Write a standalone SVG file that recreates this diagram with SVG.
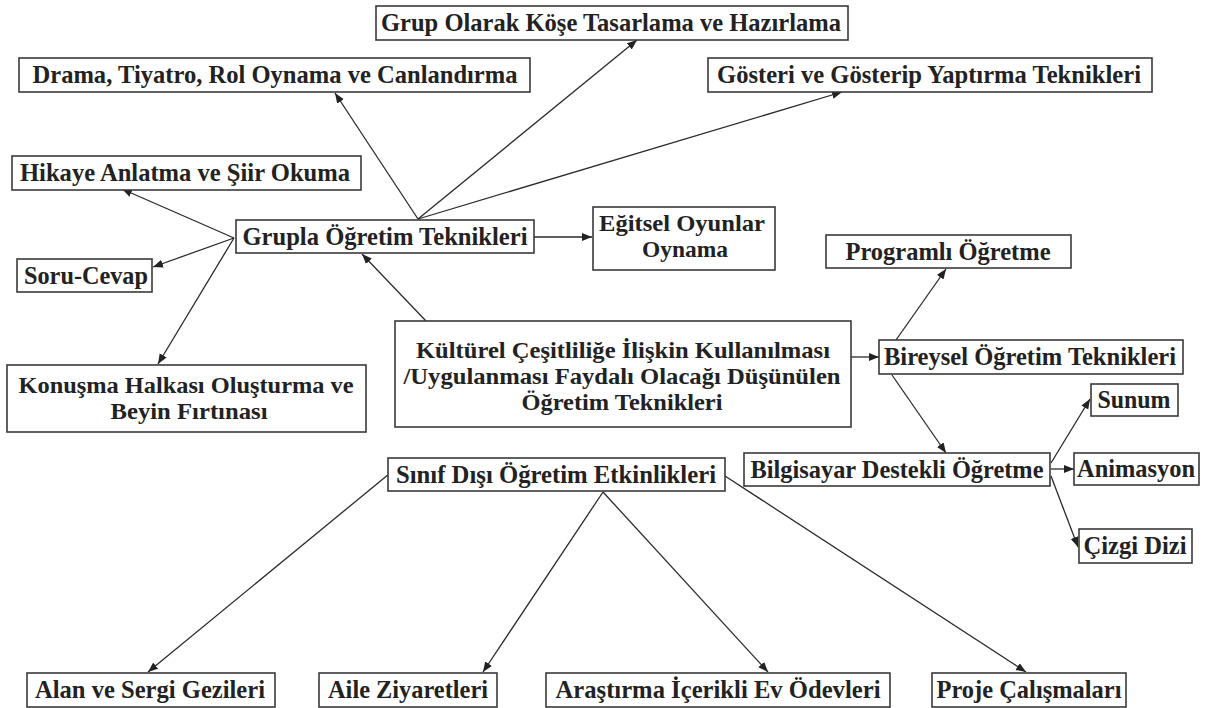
<svg xmlns="http://www.w3.org/2000/svg" width="1206" height="708" viewBox="0 0 1206 708">
<style>
.box{fill:#fff;stroke:#3a3a3a;stroke-width:1.6}
.t{font-family:"Liberation Serif","Times New Roman",serif;font-weight:bold;font-size:25.5px;fill:#222;text-anchor:middle}
.m{font-size:23px}
.c{stroke:#2a2a2a;stroke-width:1.3;fill:none;marker-end:url(#ah)}
</style>
<defs>
<marker id="ah" markerUnits="userSpaceOnUse" markerWidth="11" markerHeight="9" refX="10" refY="4.5" orient="auto">
<path d="M0,0.5 L10,4.5 L0,8.5 Z" fill="#222"/>
</marker>
</defs>
<rect width="1206" height="708" fill="#fff"/>
<g id="connectors">
<line class="c" x1="418" y1="219" x2="335" y2="93"/>
<line class="c" x1="418" y1="219" x2="637" y2="40"/>
<line class="c" x1="418" y1="219" x2="842" y2="92"/>
<line class="c" x1="234" y1="238" x2="122" y2="189"/>
<line class="c" x1="234" y1="238" x2="153" y2="267"/>
<line class="c" x1="234" y1="238" x2="158" y2="364"/>
<line class="c" x1="534" y1="237" x2="592" y2="237"/>
<line class="c" x1="426" y1="321" x2="362" y2="254"/>
<line class="c" x1="851" y1="357" x2="879" y2="357"/>
<line class="c" x1="896" y1="340" x2="946" y2="269"/>
<line class="c" x1="892" y1="375" x2="946" y2="453"/>
<line class="c" x1="1051" y1="463" x2="1090" y2="399"/>
<line class="c" x1="1051" y1="469" x2="1074" y2="469"/>
<line class="c" x1="1051" y1="476" x2="1078" y2="547"/>
<line class="c" x1="389" y1="474" x2="148" y2="672"/>
<line class="c" x1="603" y1="492" x2="483" y2="672"/>
<line class="c" x1="603" y1="492" x2="768" y2="672"/>
<line class="c" x1="725" y1="476" x2="1026" y2="672"/>
</g>
<g id="n-grup-olarak"><rect class="box" x="376" y="6" width="472" height="34"/><text class="t" x="611" y="31" textLength="460" lengthAdjust="spacingAndGlyphs">Grup Olarak Köşe Tasarlama ve Hazırlama</text></g>
<g id="n-drama"><rect class="box" x="19" y="58" width="511" height="34"/><text class="t" x="275" y="83" textLength="485" lengthAdjust="spacingAndGlyphs">Drama, Tiyatro, Rol Oynama ve Canlandırma</text></g>
<g id="n-gosteri"><rect class="box" x="708" y="58" width="444" height="34"/><text class="t" x="929" y="83" textLength="424" lengthAdjust="spacingAndGlyphs">Gösteri ve Gösterip Yaptırma Teknikleri</text></g>
<g id="n-hikaye"><rect class="box" x="12" y="156" width="349" height="34"/><text class="t" x="185" y="181" textLength="330" lengthAdjust="spacingAndGlyphs">Hikaye Anlatma ve Şiir Okuma</text></g>
<g id="n-grupla"><rect class="box" x="236" y="220" width="298" height="33"/><text class="t" x="385" y="245" textLength="285" lengthAdjust="spacingAndGlyphs">Grupla Öğretim Teknikleri</text></g>
<g id="n-egitsel"><rect class="box" x="593" y="207" width="182" height="63"/><text class="t m" x="682" y="231" textLength="166" lengthAdjust="spacingAndGlyphs">Eğitsel Oyunlar</text><text class="t m" x="685" y="257" textLength="86" lengthAdjust="spacingAndGlyphs">Oynama</text></g>
<g id="n-programli"><rect class="box" x="826" y="235" width="245" height="33"/><text class="t" x="948" y="260" textLength="205" lengthAdjust="spacingAndGlyphs">Programlı Öğretme</text></g>
<g id="n-soru"><rect class="box" x="17" y="259" width="135" height="33"/><text class="t" x="86" y="284" textLength="124" lengthAdjust="spacingAndGlyphs">Soru-Cevap</text></g>
<g id="n-konusma"><rect class="box" x="7" y="365" width="359" height="67"/><text class="t m" x="186" y="393" textLength="335" lengthAdjust="spacingAndGlyphs">Konuşma Halkası Oluşturma ve</text><text class="t m" x="189" y="419" textLength="157" lengthAdjust="spacingAndGlyphs">Beyin Fırtınası</text></g>
<g id="n-kulturel"><rect class="box" x="395" y="321" width="456" height="106"/><text class="t m" x="623" y="358" textLength="414" lengthAdjust="spacingAndGlyphs">Kültürel Çeşitliliğe İlişkin Kullanılması</text><text class="t m" x="622" y="384" textLength="437" lengthAdjust="spacingAndGlyphs">/Uygulanması Faydalı Olacağı Düşünülen</text><text class="t m" x="622" y="410" textLength="201" lengthAdjust="spacingAndGlyphs">Öğretim Teknikleri</text></g>
<g id="n-bireysel"><rect class="box" x="879" y="340" width="304" height="34"/><text class="t" x="1030" y="365" textLength="292" lengthAdjust="spacingAndGlyphs">Bireysel Öğretim Teknikleri</text></g>
<g id="n-sunum"><rect class="box" x="1091" y="384" width="87" height="32"/><text class="t" x="1134" y="408" textLength="73" lengthAdjust="spacingAndGlyphs">Sunum</text></g>
<g id="n-bilgisayar"><rect class="box" x="744" y="453" width="306" height="33"/><text class="t" x="897" y="478" textLength="293" lengthAdjust="spacingAndGlyphs">Bilgisayar Destekli Öğretme</text></g>
<g id="n-animasyon"><rect class="box" x="1074" y="453" width="125" height="32"/><text class="t" x="1136" y="477" textLength="118" lengthAdjust="spacingAndGlyphs">Animasyon</text></g>
<g id="n-sinif"><rect class="box" x="388" y="458" width="337" height="33"/><text class="t" x="556" y="483" textLength="320" lengthAdjust="spacingAndGlyphs">Sınıf Dışı Öğretim Etkinlikleri</text></g>
<g id="n-cizgi"><rect class="box" x="1079" y="529" width="113" height="34"/><text class="t" x="1135" y="554" textLength="103" lengthAdjust="spacingAndGlyphs">Çizgi Dizi</text></g>
<g id="n-alan"><rect class="box" x="27" y="673" width="248" height="34"/><text class="t" x="150" y="698" textLength="230" lengthAdjust="spacingAndGlyphs">Alan ve Sergi Gezileri</text></g>
<g id="n-aile"><rect class="box" x="319" y="673" width="178" height="34"/><text class="t" x="408" y="698" textLength="160" lengthAdjust="spacingAndGlyphs">Aile Ziyaretleri</text></g>
<g id="n-arastirma"><rect class="box" x="546" y="673" width="344" height="34"/><text class="t" x="718" y="698" textLength="325" lengthAdjust="spacingAndGlyphs">Araştırma İçerikli Ev Ödevleri</text></g>
<g id="n-proje"><rect class="box" x="932" y="673" width="194" height="34"/><text class="t" x="1029" y="698" textLength="185" lengthAdjust="spacingAndGlyphs">Proje Çalışmaları</text></g>
</svg>
